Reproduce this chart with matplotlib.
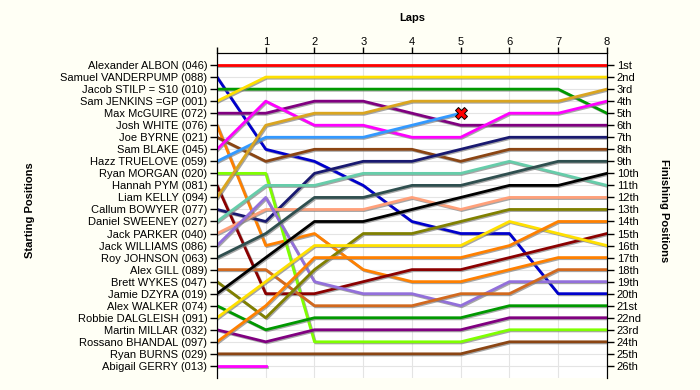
import matplotlib.pyplot as plt
from matplotlib import patheffects as pe

plt.rcParams['font.family'] = ['Liberation Sans', 'DejaVu Sans']

# starting grid order (top to bottom)
drivers = ["Alexander ALBON (046)", "Samuel VANDERPUMP (088)", "Jacob STILP = S10 (010)",
           "Sam JENKINS =GP (001)", "Max McGUIRE (072)", "Josh WHITE (076)",
           "Joe BYRNE (021)", "Sam BLAKE (045)", "Hazz TRUELOVE (059)",
           "Ryan MORGAN (020)", "Hannah PYM (081)", "Liam KELLY (094)",
           "Callum BOWYER (077)", "Daniel SWEENEY (027)", "Jack PARKER (040)",
           "Jack WILLIAMS (086)", "Roy JOHNSON (063)", "Alex GILL (089)",
           "Brett WYKES (047)", "Jamie DZYRA (019)", "Alex WALKER (074)",
           "Robbie DALGLEISH (091)", "Martin MILLAR (032)", "Rossano BHANDAL (097)",
           "Ryan BURNS (029)", "Abigail GERRY (013)"]

colors = ["#FF0000", "#0000CC", "#009900", "#FFE000", "#800080", "#FF8000",
          "#8B4513", "#FF00FF", "#3399FF", "#7FFF00", "#8B0000", "#DAA520",
          "#191970", "#66CDAA", "#FFA07A", "#9370DB", "#2F4F4F", "#D2691E",
          "#808000", "#000000", "#009900", "#FFE000", "#800080", "#FF8000",
          "#8B4513", "#FF00FF"]

laps = [0, 1, 2, 3, 4, 5, 6, 7, 8]

# position of each driver after every lap (shorter list = retired)
positions = [
    [1, 1, 1, 1, 1, 1, 1, 1, 1],
    [2, 8, 9, 11, 14, 15, 15, 20, 20],
    [3, 3, 3, 3, 3, 3, 3, 3, 5],
    [4, 2, 2, 2, 2, 2, 2, 2, 2],
    [5, 5, 4, 4, 5, 6, 6, 6, 6],
    [6, 16, 15, 18, 19, 19, 18, 17, 17],
    [7, 9, 8, 8, 8, 9, 8, 8, 8],
    [8, 4, 6, 6, 7, 7, 5, 5, 4],
    [9, 7, 7, 7, 6, 5],
    [10, 10, 24, 24, 24, 24, 23, 23, 23],
    [11, 20, 20, 19, 18, 18, 17, 16, 15],
    [12, 6, 5, 5, 4, 4, 4, 4, 3],
    [13, 14, 10, 9, 9, 8, 7, 7, 7],
    [14, 11, 11, 10, 10, 10, 9, 10, 11],
    [15, 13, 13, 13, 12, 13, 12, 12, 12],
    [16, 12, 19, 20, 20, 21, 19, 19, 19],
    [17, 15, 12, 12, 11, 11, 10, 9, 9],
    [18, 18, 21, 21, 21, 20, 20, 18, 18],
    [19, 22, 18, 15, 15, 14, 13, 13, 13],
    [20, 17, 14, 14, 13, 12, 11, 11, 10],
    [21, 23, 22, 22, 22, 22, 21, 21, 21],
    [22, 19, 16, 16, 16, 16, 14, 15, 16],
    [23, 24, 23, 23, 23, 23, 22, 22, 22],
    [24, 21, 17, 17, 17, 17, 16, 14, 14],
    [25, 25, 25, 25, 25, 25, 24, 24, 24],
    [26, 26],
]

# retirement marker (lap, position)
retired_lap = [5]
retired_pos = [5]

finish_labels = ["1st", "2nd", "3rd", "4th", "5th", "6th", "7th", "8th", "9th", "10th",
                 "11th", "12th", "13th", "14th", "15th", "16th", "17th", "18th", "19th",
                 "20th", "21st", "22nd", "23rd", "24th", "25th", "26th"]

fig = plt.figure(figsize=(7, 3.9), dpi=100, facecolor='#FFFFF5')
ax = fig.add_axes([0.31, 0.031, 0.557, 0.833])
ax.set_facecolor('white')

shadow = [pe.SimpleLineShadow(offset=(0.8, -0.8), shadow_color='#808080', alpha=0.7), pe.Normal()]
for p, c in zip(positions, colors):
    ax.plot(laps[:len(p)], p, color=c, lw=2, path_effects=shadow, zorder=3)

ax.plot(retired_lap, retired_pos, linestyle='none', marker='X', ms=9,
        mfc='red', mec='black', mew=0.7, zorder=5)

ax.set_xlim(0, 8)
ax.set_ylim(27, 0)
ax.grid(color='#E4E4E4', lw=0.8, zorder=0)
ax.set_axisbelow(True)

ax.xaxis.tick_top()
ax.set_xticks(laps)
ax.set_xticklabels([''] + [str(l) for l in laps[1:]])
ax.set_yticks(range(1, 27))
ax.set_yticklabels(drivers)
ax.tick_params(axis='y', labelsize=8, length=5, width=1, pad=2)
ax.tick_params(axis='x', labelsize=8, length=4, width=1, pad=0.5)
ax.spines['bottom'].set_visible(False)

ax2 = ax.twinx()
ax2.set_ylim(27, 0)
ax2.set_yticks(range(1, 27))
ax2.set_yticklabels(finish_labels)
ax2.tick_params(axis='y', labelsize=8, length=5, width=1, pad=2)
ax2.spines['bottom'].set_visible(False)

fig.text(0.589, 0.953, 'Laps', ha='center', va='center', fontsize=8, weight='bold')
fig.text(0.043, 0.46, 'Starting Positions', ha='center', va='center', rotation=90,
         fontsize=8, weight='bold')
fig.text(0.949, 0.46, 'Finishing Positions', ha='center', va='center', rotation=270,
         fontsize=8, weight='bold')

plt.savefig('out.png', dpi=100, facecolor=fig.get_facecolor())
